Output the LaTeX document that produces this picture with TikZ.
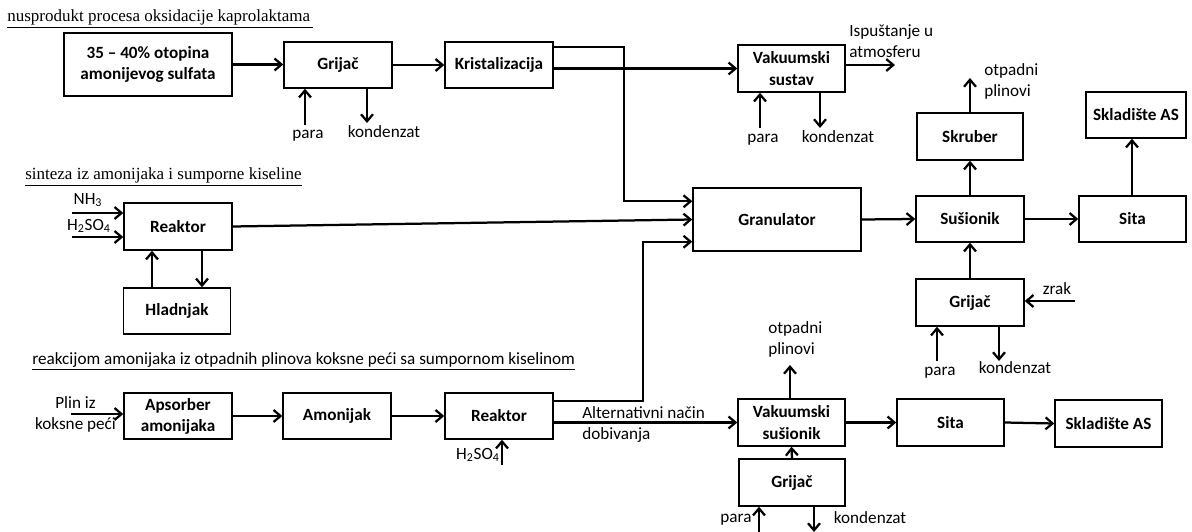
\documentclass[tikz,border=0pt]{standalone}
\usepackage{fontspec}
\setmainfont{Carlito}
\newfontfamily\serifnaslov{Liberation Serif}
\usetikzlibrary{arrows.meta,calc}

\tikzset{
  blok/.style={draw, line width=1pt, font=\fontsize{12.2}{15}\selectfont\bfseries, align=center,
    minimum width=2.7cm, minimum height=1.15cm, inner sep=2pt},
  siroki/.style={blok, minimum width=4.2cm, minimum height=1.575cm},
  tok/.style={line width=1.6pt, -{Straight Barb[length=5pt,width=8.5pt]}},
  oznaka/.style={font=\fontsize{12.2}{15}\selectfont, inner sep=0pt, align=left},
  naslov/.style={font=\fontsize{12.1}{15}\selectfont\serifnaslov, anchor=west, inner sep=0pt},
}

\begin{document}
\begin{tikzpicture}[x=0.025cm, y=-0.025cm]
	\useasboundingbox (0,0) rectangle (1192,532);

	% Prvi postupak: nusprodukt kaprolaktama
	\node[naslov] (naslov1) at (7,19) {\underline{nusprodukt procesa oksidacije kaprolaktama\,}};
	\node[siroki] (otopina) at (148,64.5) {35 -- 40\% otopina\\amonijevog sulfata};
	\node[blok] (grijac1) at (338,65) {Grijač};
	\node[blok] (kristal) at (499,65) {Kristalizacija};
	\node[blok, minimum width=2.675cm, minimum height=1.175cm] (vaksustav) at (791.5,68.5) {Vakuumski\\sustav};

	% Tokovi kroz grijač i kristalizaciju
	\draw[tok] (otopina.east) -- (otopina.east -| grijac1.west);
	\draw[tok] (grijac1.east) -- (kristal.west);
	\draw[tok] (kristal.east |- vaksustav.west) -- (vaksustav.west);

	% Para i kondenzat (gornji grijač)
	\coordinate (p1) at (305,125);
	\coordinate (k1) at (367,123);
	\draw[tok] (p1) -- (p1 |- grijac1.south);
	\draw[tok] (k1 |- grijac1.south) -- (k1);
	\node[oznaka] (para1) at (308,136) {para};
	\node[oznaka] (kond1) at (384,132) {kondenzat};

	% Vakuumski sustav
	\coordinate (p2) at (760,128);
	\coordinate (k2) at (820,128);
	\coordinate (isp) at (895,65);
	\draw[tok] (p2) -- (p2 |- vaksustav.south);
	\draw[tok] (k2 |- vaksustav.south) -- (k2);
	\draw[tok] (isp -| vaksustav.east) -- (isp);
	\node[oznaka] (para2) at (763,140) {para};
	\node[oznaka] (kond2) at (838,137) {kondenzat};
	\node[oznaka, anchor=west] (ispustanje) at (849,41.5) {Ispuštanje u\\atmosferu};

	% Drugi postupak: sinteza
	\node[naslov] (naslov2) at (25,177) {\underline{sinteza iz amonijaka i sumporne kiseline}};
	\node[blok, minimum height=1.175cm] (reaktor1) at (178,226.5) {Reaktor};
	\node[blok, minimum width=2.675cm] (hladnjak) at (177,311) {Hladnjak};

	\coordinate (nh) at (72,213);
	\coordinate (hs1) at (72,237);
	\draw[tok] (nh) -- (nh -| reaktor1.west);
	\draw[tok] (hs1) -- (hs1 -| reaktor1.west);
	\node[oznaka] (nh3) at (88,200) {NH\textsubscript{3}};
	\node[oznaka] (h2so4a) at (89,226) {H\textsubscript{2}SO\textsubscript{4}};
	\draw[tok] (152,0 |- hladnjak.north) -- (152,0 |- reaktor1.south);
	\draw[tok] (202,0 |- reaktor1.south) -- (202,0 |- hladnjak.north);

	% Granulacija, sušenje i prosijavanje
	\node[siroki] (granulator) at (777,219.5) {Granulator};
	\node[blok] (susionik) at (970,219) {Sušionik};
	\node[blok, minimum width=2.65cm, minimum height=1.175cm] (skruber) at (970,136.5) {Skruber};
	\node[blok, minimum width=2.675cm] (sita1) at (1132.5,219) {Sita};
	\node[blok, minimum width=2.5cm] (skladiste1) at (1136,115) {Skladište AS};
	\node[blok, minimum height=1.175cm] (grijac2) at (970,302.5) {Grijač};

	\draw[tok] ($(kristal.north east)+(0,6)$) -- ++(70,0) |- ($(granulator.north west)+(0,14)$);
	\draw[tok] (reaktor1.east) -- (granulator.west);
	\draw[tok] (granulator.east) -- (susionik.west);
	\draw[tok] (susionik.east) -- (sita1.west);
	\draw[tok] (susionik.north) -- (skruber.south);
	\draw[tok] (sita1.north -| 1132,0) -- (skladiste1.south -| 1132,0);
	\draw[tok] (grijac2.north) -- (susionik.south);

	\coordinate (op1) at (970,78);
	\draw[tok] (op1 |- skruber.north) -- (op1);
	\node[oznaka, anchor=west] (otpadni1) at (984,81.5) {otpadni\\plinovi};

	\coordinate (zr) at (1075,301);
	\coordinate (p4) at (937,361);
	\coordinate (k4) at (999,361);
	\draw[tok] (zr) -- (zr -| grijac2.east);
	\draw[tok] (p4) -- (p4 |- grijac2.south);
	\draw[tok] (k4 |- grijac2.south) -- (k4);
	\node[oznaka] (zrak) at (1057,289) {zrak};
	\node[oznaka] (para4) at (940,373) {para};
	\node[oznaka] (kond4) at (1015,368) {kondenzat};

	% Treći postupak: plinovi koksne peći
	\node[oznaka, anchor=west] (naslov3) at (32,361) {\underline{reakcijom amonijaka iz otpadnih plinova koksne peći sa sumpornom kiselinom}};
	\node[blok] (apsorber) at (178,416) {Apsorber\\amonijaka};
	\node[blok] (amonijak) at (337,416) {Amonijak};
	\node[blok] (reaktor2) at (499,416) {Reaktor};
	\node[blok, minimum width=2.675cm, minimum height=1.175cm] (vaksusionik) at (791.5,422.5) {Vakuumski\\sušionik};
	\node[blok, minimum width=2.675cm, minimum height=1.175cm] (sita2) at (950.5,422.5) {Sita};
	\node[blok, minimum width=2.675cm, minimum height=1.175cm] (skladiste2) at (1108.5,423.5) {Skladište AS};
	\node[blok, minimum width=2.65cm, minimum height=1.175cm] (grijac3) at (792,482.5) {Grijač};

	\coordinate (plin) at (71,414);
	\draw[tok] (plin) -- (plin -| apsorber.west);
	\node[oznaka, align=center] (plinpec) at (75.5,414.5) {Plin iz\\koksne peći};
	\draw[tok] (apsorber.east) -- (amonijak.west);
	\draw[tok] (amonijak.east) -- (reaktor2.west);

	\coordinate (hs2) at (502,465);
	\draw[tok] (hs2) -- (hs2 |- reaktor2.south);
	\node[oznaka, anchor=east] (h2so4b) at (500,455) {H\textsubscript{2}SO\textsubscript{4}};

	\draw[tok] ($(reaktor2.north east)+(0,9)$) -- ++(89,0) |- ($(granulator.south west)+(0,-10)$);
	\draw[tok] (reaktor2.east |- vaksusionik.west) -- (vaksusionik.west);
	\node[oznaka, anchor=west] (alternativni) at (582,424.5) {Alternativni način\\dobivanja};

	\draw[tok] (vaksusionik.east) -- (sita2.west);
	\draw[tok] (sita2.east) -- (skladiste2.west);
	\draw[tok] (grijac3.north) -- (vaksusionik.south);

	\coordinate (op2) at (790,365);
	\draw[tok] (op2 |- vaksusionik.north) -- (op2);
	\node[oznaka, anchor=west] (otpadni2) at (768,339.5) {otpadni\\plinovi};

	% Para i kondenzat (donji grijač)
	\coordinate (p3) at (759,532);
	\coordinate (k3) at (814,532);
	\draw[tok] (p3) -- (p3 |- grijac3.south);
	\draw[tok] (k3 |- grijac3.south) -- (k3);
	\node[oznaka] (para3) at (736,520) {para};
	\node[oznaka] (kond3) at (870,518) {kondenzat};

\end{tikzpicture}
\end{document}
